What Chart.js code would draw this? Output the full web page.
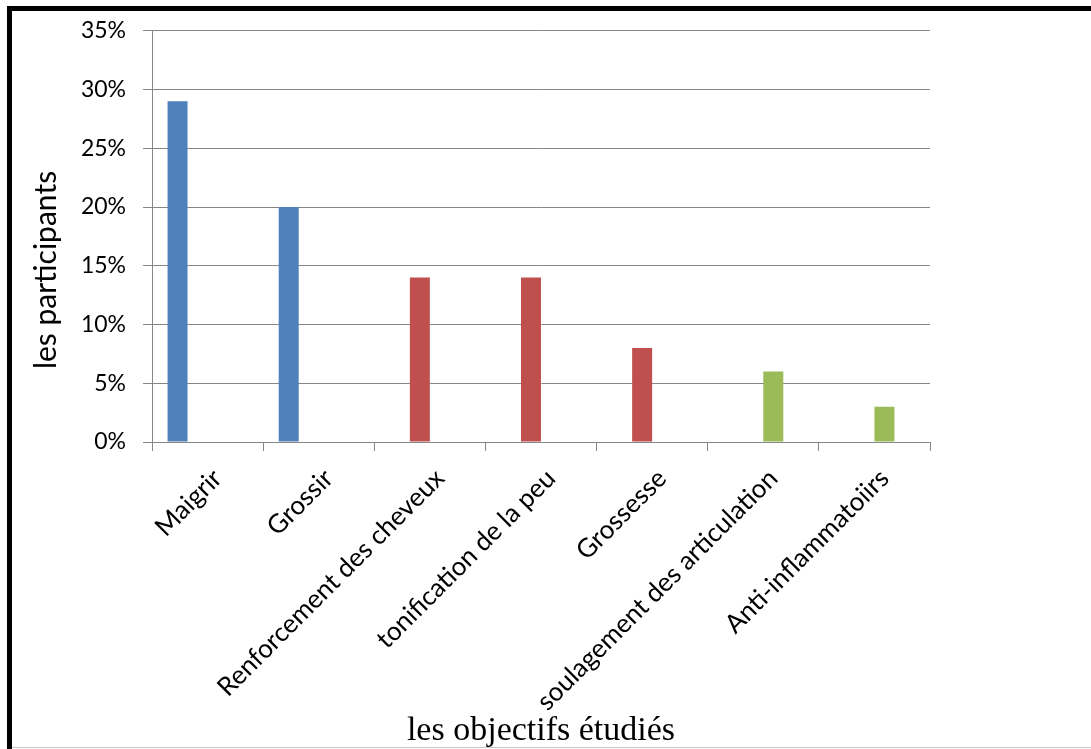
<!DOCTYPE html>
<html lang="fr">
<head>
<meta charset="utf-8">
<title>les objectifs étudiés</title>
<script src="https://cdn.jsdelivr.net/npm/chart.js@4/dist/chart.umd.min.js"></script>
<style>
  html, body { margin: 0; padding: 0; background: #fff; overflow: hidden; }
  #wrap { position: relative; width: 1091px; height: 749px; }
  #chart { position: absolute; left: 0; top: 0; }
  .frame-top { position: absolute; left: 7px; top: 6px; width: 1084px; height: 5px; background: #000; }
  .frame-left { position: absolute; left: 7px; top: 6px; width: 5px; height: 743px; background: #000; }
  .frame-bottom { position: absolute; left: 12px; top: 747px; width: 1079px; height: 1px; background: #c8c8c8; }
</style>
</head>
<body>
<div id="wrap">
  <canvas id="chart" width="1091" height="749"></canvas>
  <div class="frame-top"></div>
  <div class="frame-left"></div>
  <div class="frame-bottom"></div>
</div>
<script>
// Objectifs étudiés et part des participants (%)
const categories = [
  'Maigrir',
  'Grossir',
  'Renforcement des cheveux',
  'tonification de la peu',
  'Grossesse',
  'soulagement des articulation',
  'Anti-inflammatoiirs'
];
const serie1 = [29, 20, null, null, null, null, null];
const serie2 = [null, null, 14, 14, 8, null, null];
const serie3 = [null, null, null, null, null, 6, 3];
const serie4 = [null, null, null, null, null, null, null];
const yTicks = [0, 5, 10, 15, 20, 25, 30, 35];

const xTitle = 'les objectifs étudiés';
const yTitle = 'les participants';

const GRID = '#868686';
const SANS = 'Lato, "Open Sans", sans-serif';

// Axis titles placed relative to the chart area
const axisTitles = {
  id: 'axisTitles',
  afterDraw(chart) {
    const { ctx, chartArea } = chart;
    ctx.save();
    ctx.fillStyle = '#000';
    ctx.font = '34px "Liberation Serif", serif';
    ctx.textAlign = 'center';
    ctx.textBaseline = 'alphabetic';
    ctx.fillText(xTitle, (chartArea.left + chartArea.right) / 2, 740);

    ctx.font = '30px ' + SANS;
    ctx.translate(56, 270);
    ctx.rotate(-Math.PI / 2);
    ctx.fillText(yTitle, 0, 0);
    ctx.restore();
  }
};

const mkSet = (label, data, color) => ({
  label, data,
  backgroundColor: color,
  borderWidth: 0,
  barPercentage: 1,
  categoryPercentage: 0.72
});

new Chart(document.getElementById('chart'), {
  type: 'bar',
  data: {
    labels: categories,
    datasets: [
      mkSet('Série 1', serie1, '#4F81BD'),
      mkSet('Série 2', serie2, '#C0504D'),
      mkSet('Série 3', serie3, '#9BBB59'),
      mkSet('Série 4', serie4, '#8064A2')
    ]
  },
  options: {
    responsive: false,
    animation: false,
    devicePixelRatio: 1,
    layout: { padding: { left: 0, top: 29, right: 161, bottom: 0 } },
    plugins: {
      legend: { display: false },
      tooltip: { enabled: false }
    },
    scales: {
      x: {
        afterFit(scale) { scale.height = 307; },
        grid: {
          drawOnChartArea: false,
          drawTicks: true,
          tickLength: 9,
          color: GRID,
          lineWidth: 1
        },
        border: { color: GRID, width: 1 },
        ticks: {
          minRotation: 45,
          maxRotation: 45,
          autoSkip: false,
          padding: 12,
          labelOffset: 10,
          color: '#000',
          font: { family: SANS, size: 26 }
        }
      },
      y: {
        min: 0,
        max: 35,
        afterFit(scale) { scale.width = 152; },
        afterBuildTicks(scale) { scale.ticks = yTicks.map(v => ({ value: v })); },
        grid: { color: GRID, lineWidth: 1, tickLength: 9 },
        border: { color: GRID, width: 1 },
        ticks: {
          padding: 17,
          color: '#000',
          font: { family: SANS, size: 23 },
          callback: v => v + '%'
        }
      }
    }
  },
  plugins: [axisTitles]
});
</script>
</body>
</html>
